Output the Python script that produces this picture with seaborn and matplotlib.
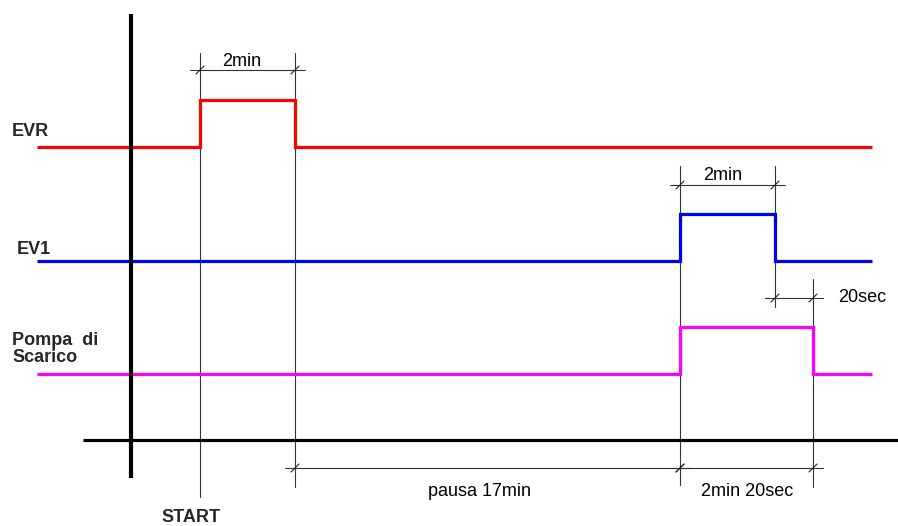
import matplotlib
matplotlib.use("Agg")
import matplotlib.pyplot as plt
import seaborn as sns
import pandas as pd

# ---- data (schematic diagram positions, in drawing units) ----
signal_names = ["EVR", "EV1", "Pompa  di\nScarico"]
signal_colors = ["#ff0000", "#0000ff", "#ff00ff"]
baseline = [147, 261, 374]          # low level of each trace
pulse_height = 47                   # height of the ON pulse
rise = [200, 680, 680]              # ON instant of each signal
fall = [295, 775, 813]              # OFF instant of each signal
trace_start, trace_end = 37, 872

# dimension annotations: (from, to, level, label)
dim_from = [200, 680, 775, 295, 680]
dim_to = [295, 775, 813, 680, 813]
dim_level = [70, 185, 298, 468, 468]
dim_labels = ["2min", "2min", "20sec", "pausa 17min", "2min 20sec"]

sns.set_style("white")
plt.rcParams["font.family"] = ["Liberation Sans", "DejaVu Sans"]

fig = plt.figure(figsize=(8.98, 5.26), dpi=100)
ax = fig.add_axes([0, 0, 1, 1])
ax.set_xlim(0, 898)
ax.set_ylim(526, 0)
ax.axis("off")

# signal traces
for name, col, low, r, f in zip(signal_names, signal_colors, baseline, rise, fall):
    high = low - pulse_height
    df = pd.DataFrame({"t": [trace_start, r, f, trace_end],
                       "v": [low, high, low, low]})
    sns.lineplot(data=df, x="t", y="v", ax=ax, color=col, lw=2.3,
                 drawstyle="steps-post", sort=False, zorder=5,
                 solid_joinstyle="miter", solid_capstyle="butt")

# main axes of the diagram
ax.plot([131, 131], [14, 478], color="black", lw=3.0, solid_capstyle="butt", zorder=6)
ax.plot([83, 898], [440, 440], color="black", lw=2.3, solid_capstyle="butt", zorder=6)

thin = dict(color="#333333", lw=0.8, zorder=2)
# extension (reference) lines
ax.plot([200, 200], [53, 497], **thin)
ax.plot([295, 295], [53, 487], **thin)
ax.plot([680, 680], [166, 485], **thin)
ax.plot([775, 775], [166, 307], **thin)
ax.plot([813, 813], [279, 487], **thin)

# dimension lines with slash ticks
label_pos = [(242, 62), (723, 176), (838, 298), (480, 491), (747, 491)]
label_ha = ["center", "center", "left", "center", "center"]
for a, b, lvl, lab, (lx, ly), ha in zip(dim_from, dim_to, dim_level, dim_labels,
                                         label_pos, label_ha):
    ax.plot([a - 10, b + 10], [lvl, lvl], **thin)
    for xx in (a, b):
        ax.plot([xx - 4, xx + 4], [lvl + 4, lvl - 4], color="#222222", lw=0.8, zorder=3)
    ax.text(lx, ly, lab, ha=ha, va="center", fontsize=13, color="black")

# signal labels
ax.text(12, 131, "EVR", fontsize=13, fontweight="bold", ha="left", va="center")
ax.text(17, 250, "EV1", fontsize=13, fontweight="bold", ha="left", va="center")
ax.text(12, 349, "Pompa  di\nScarico", fontsize=13, fontweight="bold",
        ha="left", va="center", linespacing=1.05)
ax.text(191, 517, "START", fontsize=13, fontweight="bold", ha="center", va="center")

fig.savefig("out.png", dpi=100)
